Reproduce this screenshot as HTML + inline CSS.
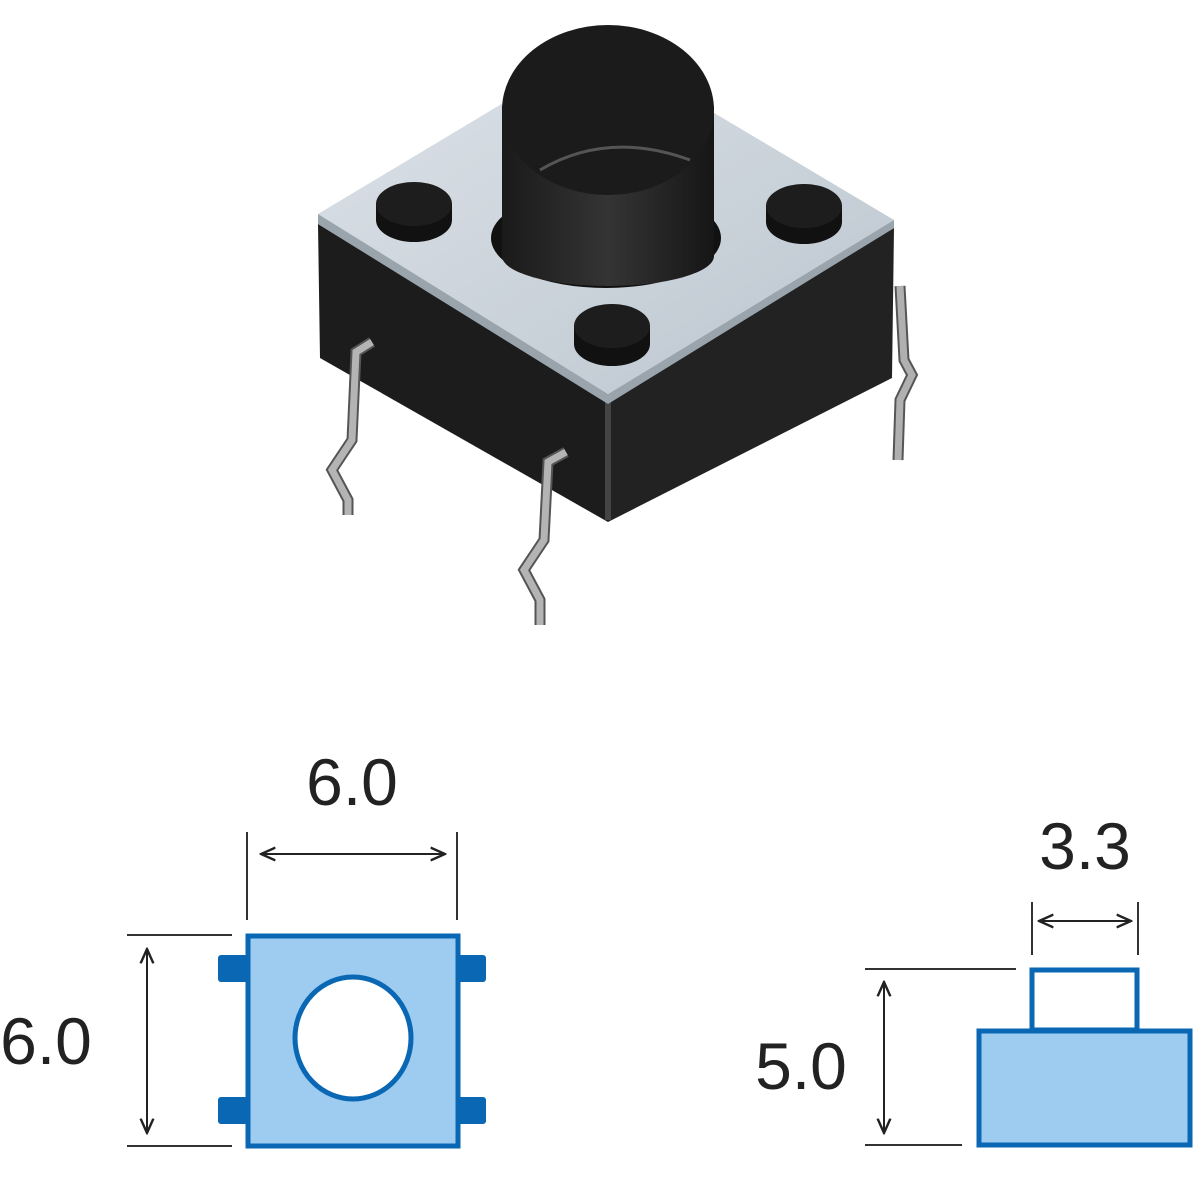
<!DOCTYPE html>
<html><head><style>
html,body{margin:0;padding:0;background:#fff;}
svg{display:block;}
text{font-family:"Liberation Sans",sans-serif;fill:#222;}
</style></head><body>
<svg width="1200" height="1200" viewBox="0 0 1200 1200">
<defs>
<linearGradient id="tf" x1="0" y1="0" x2="1" y2="1">
<stop offset="0" stop-color="#dde2e8"/><stop offset="1" stop-color="#bcc6cf"/></linearGradient>
<linearGradient id="cyl" x1="0" y1="0" x2="1" y2="0">
<stop offset="0" stop-color="#1a1a1a"/><stop offset="0.5" stop-color="#343434"/><stop offset="1" stop-color="#161616"/></linearGradient>
<marker id="a" viewBox="0 0 10 10" refX="9" refY="5" markerWidth="8" markerHeight="8" orient="auto-start-reverse"><path d="M0,1 L9,5 L0,9" fill="none" stroke="#222" stroke-width="1.5"/></marker>
</defs>
<polyline points="900,286 904,360 912,375 900,400 898,460" fill="none" stroke="#555" stroke-width="11"/>
<polyline points="900,286 904,360 912,375 900,400 898,460" fill="none" stroke="#b0b0b0" stroke-width="7"/>
<polygon points="318,224 608,402 608,522 320,358" fill="#1c1c1c"/>
<polygon points="608,402 894,228 892,378 608,522" fill="#222"/>
<line x1="608" y1="402" x2="608" y2="520" stroke="#444" stroke-width="6"/>
<polygon points="318,214 600,45 894,220 608,394" fill="url(#tf)"/>
<polygon points="318,214 608,394 894,220 894,228 608,404 318,224" fill="#9aa4ad"/>
<g fill="#111">
<ellipse cx="414" cy="220" rx="38" ry="22"/><rect x="376" y="204" width="76" height="16"/><ellipse cx="414" cy="204" rx="38" ry="22" fill="#1d1d1d"/>
<ellipse cx="804" cy="222" rx="38" ry="22"/><rect x="766" y="206" width="76" height="16"/><ellipse cx="804" cy="206" rx="38" ry="22" fill="#1d1d1d"/>
<ellipse cx="612" cy="344" rx="38" ry="22"/><rect x="574" y="326" width="76" height="18"/><ellipse cx="612" cy="326" rx="38" ry="22" fill="#1d1d1d"/>
</g>
<ellipse cx="606" cy="238" rx="115" ry="50" fill="#111"/>
<rect x="502" y="106" width="212" height="150" fill="url(#cyl)"/>
<ellipse cx="608" cy="256" rx="106" ry="30" fill="url(#cyl)"/>
<ellipse cx="608" cy="110" rx="106" ry="85" fill="#1b1b1b"/>
<path d="M540,170 Q608,130 690,160" fill="none" stroke="#555" stroke-width="3"/>
<g fill="none">
<polyline points="372,342 356,352 352,440 332,470 348,500 348,515" stroke="#555" stroke-width="11"/>
<polyline points="372,342 356,352 352,440 332,470 348,500 348,515" stroke="#b4b4b4" stroke-width="7"/>
<polyline points="566,452 548,462 544,540 524,570 540,600 540,625" stroke="#555" stroke-width="11"/>
<polyline points="566,452 548,462 544,540 524,570 540,600 540,625" stroke="#b4b4b4" stroke-width="7"/>
</g>
<text x="352" y="805" font-size="66" text-anchor="middle">6.0</text>
<line x1="247" y1="832" x2="247" y2="920" stroke="#333" stroke-width="2"/>
<line x1="457" y1="832" x2="457" y2="920" stroke="#333" stroke-width="2"/>
<line x1="261" y1="854" x2="445" y2="854" stroke="#222" stroke-width="2" marker-start="url(#a)" marker-end="url(#a)"/>
<line x1="127" y1="935" x2="232" y2="935" stroke="#333" stroke-width="2"/>
<line x1="127" y1="1146" x2="232" y2="1146" stroke="#333" stroke-width="2"/>
<line x1="147" y1="949" x2="147" y2="1133" stroke="#222" stroke-width="2" marker-start="url(#a)" marker-end="url(#a)"/>
<text x="46" y="1064" font-size="66" text-anchor="middle">6.0</text>
<g fill="#0a67b4">
<rect x="218" y="955" width="30" height="27" rx="3"/><rect x="218" y="1097" width="30" height="27" rx="3"/>
<rect x="456" y="955" width="30" height="27" rx="3"/><rect x="456" y="1097" width="30" height="27" rx="3"/>
</g>
<rect x="248" y="936" width="210" height="210" fill="#9dccf0" stroke="#0a67b4" stroke-width="5"/>
<ellipse cx="353" cy="1038" rx="58" ry="61" fill="#fff" stroke="#0a67b4" stroke-width="5"/>
<text x="1085" y="869" font-size="66" text-anchor="middle">3.3</text>
<line x1="1032" y1="902" x2="1032" y2="955" stroke="#333" stroke-width="2"/>
<line x1="1138" y1="902" x2="1138" y2="955" stroke="#333" stroke-width="2"/>
<line x1="1039" y1="921" x2="1131" y2="921" stroke="#222" stroke-width="2" marker-start="url(#a)" marker-end="url(#a)"/>
<line x1="865" y1="969" x2="1016" y2="969" stroke="#333" stroke-width="2"/>
<line x1="865" y1="1145" x2="962" y2="1145" stroke="#333" stroke-width="2"/>
<line x1="884" y1="982" x2="884" y2="1133" stroke="#222" stroke-width="2" marker-start="url(#a)" marker-end="url(#a)"/>
<text x="801" y="1089" font-size="66" text-anchor="middle">5.0</text>
<rect x="1032" y="970" width="105" height="60" fill="#fff" stroke="#0a67b4" stroke-width="5"/>
<rect x="979" y="1031" width="211" height="114" fill="#9dccf0" stroke="#0a67b4" stroke-width="5"/>
</svg>
</body></html>
